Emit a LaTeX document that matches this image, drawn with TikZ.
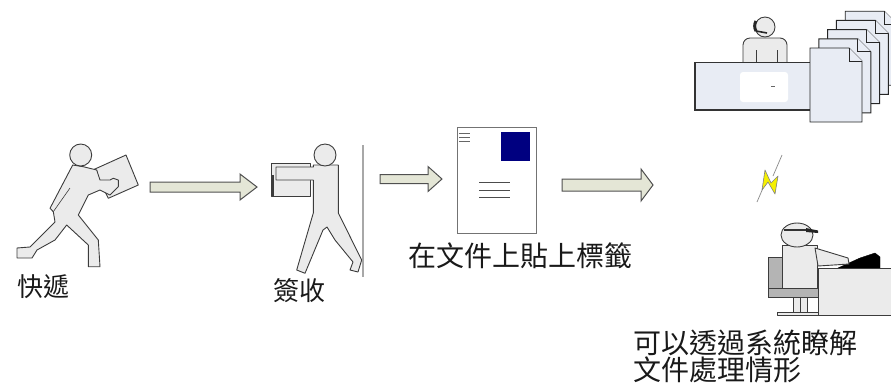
\documentclass[tikz,border=0pt]{standalone}
\usepackage{fontspec}
\newfontfamily\cjk{Noto Sans CJK TC}
\definecolor{figfill}{HTML}{EBEBEB}
\definecolor{figline}{HTML}{3C3C3C}
\definecolor{arrfill}{HTML}{E4E6D6}
\definecolor{arrline}{HTML}{505050}
\definecolor{pagefill}{HTML}{E8ECF4}
\definecolor{navyblock}{HTML}{000080}
\definecolor{boltfill}{HTML}{F5F000}
\definecolor{chairgray}{HTML}{B4B4B4}
\definecolor{wallgray}{HTML}{A8A8A8}
% block arrow: #1 start x, #2 neck x, #3 tip x, #4 centre y, #5 half shaft, #6 half head
\newcommand\blockarr[6]{%
  \draw[blockarrow] (#1,#4-#5) -- (#2,#4-#5) -- (#2,#4-#6) -- (#3,#4)
    -- (#2,#4+#6) -- (#2,#4+#5) -- (#1,#4+#5) -- cycle;}
% one sheet of the document stack, top-left corner (#1,#2)
\newcommand\sheetat[2]{%
  \draw[sheet] (#1,#2) -- (#1+39,#2) -- (#1+52,#2+13) -- (#1+52,#2+74) -- (#1,#2+74) -- cycle;
  \draw[sheet] (#1+39,#2) -- (#1+39,#2+13) -- (#1+52,#2+13);}
\begin{document}
\begin{tikzpicture}[x=1pt,y=-1pt,
  figure/.style={fill=figfill, draw=figline, line width=0.9pt, line join=round},
  blockarrow/.style={fill=arrfill, draw=arrline, line width=1pt, line join=miter},
  sheet/.style={fill=pagefill, draw=black!85, line width=0.9pt, line join=miter},
  label/.style={inner sep=0pt, text=black!90, font=\cjk\fontsize{26}{30}\selectfont},
  biglabel/.style={inner sep=0pt, text=black!90, font=\cjk\fontsize{28}{27}\selectfont}]
\useasboundingbox (0,0) rectangle (891,384);
\clip (0,0) rectangle (891,384);

% ---- courier running with a parcel ----
\draw[figure] (94.3,169.3) -- (126,155) -- (138.3,185) -- (108.3,198.3) -- cycle;
\draw[figure] (72.7,165) -- (83.3,166.7) -- (96.7,170) -- (100,180) -- (110,180)
  -- (113.3,178.3) -- (118.3,180) -- (118.3,186.7) -- (110,195) -- (100,190)
  -- (88.3,195) -- (78.3,215) -- (98.3,240) -- (100,266.7) -- (88.3,266.7)
  -- (88.3,245) -- (66.7,225) -- (55,240) -- (37,250) -- (32,258) -- (17,258)
  -- (17,248) -- (30,247) -- (55,222) -- (53.3,211.7) -- (50,208.3) -- cycle;
\draw[figure, line width=0.6pt] (53.3,211.7) -- (70,188);
\node[circle, figure, minimum size=22pt, inner sep=0pt] (courierhead) at (80.7,155) {};
\node[label] (courier) at (43.5,287) {快遞};

\blockarr{150}{240}{257}{187}{5}{13}

% ---- receiver signing for the parcel ----
\draw[figure] (271.7,163.3) rectangle (310,196.7);
\draw[figline, line width=2pt] (272.5,175) -- (272.5,195.5);
\draw[figure] (313.3,165) -- (338.3,165) -- (338.3,213) -- (361.7,260) -- (358,272)
  -- (350,270) -- (353,262) -- (335,240) -- (327,227) -- (323,230) -- (305,273.3)
  -- (296.7,270) -- (313.3,213) -- (313.3,180) -- (276,180) -- (276,167)
  -- (313.3,167) -- cycle;
\node[circle, figure, minimum size=22pt, inner sep=0pt] (receiverhead) at (325,155) {};
\draw[wallgray, line width=2pt] (363.3,145) -- (363.3,277);
\node[label] (receiver) at (299.5,291) {簽收};

\blockarr{380}{428}{442}{179}{4.5}{12.5}

% ---- labelled document ----
\node[draw=black!55, fill=white, line width=1pt, minimum width=79pt, minimum height=106pt,
  inner sep=0pt, anchor=north west] (doc) at (457,127) {};
\fill[navyblock] (501,132) rectangle (530,161);
\foreach \yy in {133,137,141} \draw[black!60, line width=0.7pt] (459,\yy) -- (470,\yy);
\foreach \yy in {182,190,197} \draw[black!70, line width=0.8pt] (479,\yy) -- (510,\yy);
\node[biglabel] (labelstep) at (520,255.5) {在文件上貼上標籤};

\blockarr{562}{641}{653}{185}{6}{16}

% ---- clerk at the desk with the stack of documents ----
\path[fill=figfill, draw=figline, line width=0.9pt]
  (743,64) [rounded corners=7pt] -- (743,38) -- (787,38) [sharp corners] -- (787,64);
\draw[figline, line width=0.9pt] (756,50) -- (756,63) (777,50) -- (777,63);
\node[circle, figure, minimum size=20pt, inner sep=0pt] (clerkhead) at (765,27) {};
\draw[black!85, line width=3pt] (756,21) arc[start angle=150, end angle=210, radius=10pt];
\draw[black!85, line width=1.6pt] (756,31) -- (767,33);
\draw[fill=pagefill, draw=black!80, line width=1pt] (695,62) rectangle (812,110);
\draw[black!80, line width=2.2pt] (695,62) -- (695,110) -- (812,110);
\fill[white, rounded corners=3pt] (740,72) rectangle (788,102);
\draw[black!60, line width=0.8pt] (771,86) -- (775,86);
\foreach \k in {4,3,2,1,0} { \sheetat{810+8.8*\k}{48-9.2*\k} }

% ---- lightning bolt ----
\draw[black!45, line width=0.7pt] (782,155) -- (773,176);
\draw[black!45, line width=0.7pt] (763,188) -- (757,202);
\draw[fill=boltfill, draw=black!50, line width=0.6pt, line join=round]
  (765,170) -- (771,183) -- (778,176) -- (775,194) -- (768,182) -- (762,190) -- cycle;

% ---- clerk at the computer ----
\draw[fill=chairgray, draw=figline, line width=0.9pt] (768,257) rectangle (782,297);
\draw[figure] (782,245) rectangle (817,288);
\draw[fill=black] (838,268) -- (860,258) -- (875,253) -- (880,257) -- (880,268) -- cycle;
\draw[figure] (815,248) -- (848,258) -- (849,264) -- (818,266) -- cycle;
\draw[fill=figfill, draw=figline, line width=0.9pt] (797,235) ellipse[x radius=16pt, y radius=12pt];
\draw[black!80, line width=1.4pt] (784,230) -- (808,230);
\fill[black!85] (806,228) -- (818,230.5) -- (818,233) -- (806,232) -- cycle;
\draw[fill=chairgray, draw=figline, line width=0.9pt] (768,288) rectangle (818,297);
\draw[figure] (793,297) rectangle (807,312);
\draw[figline, line width=0.8pt] (800,297) -- (800,312);
\draw[figure] (777,312) rectangle (818,315);
\draw[figure] (818,268) rectangle (893,315);
\node[biglabel, align=left, anchor=north west] (statusnote) at (633,330)
  {可以透過系統瞭解\\文件處理情形};
\end{tikzpicture}
\end{document}
